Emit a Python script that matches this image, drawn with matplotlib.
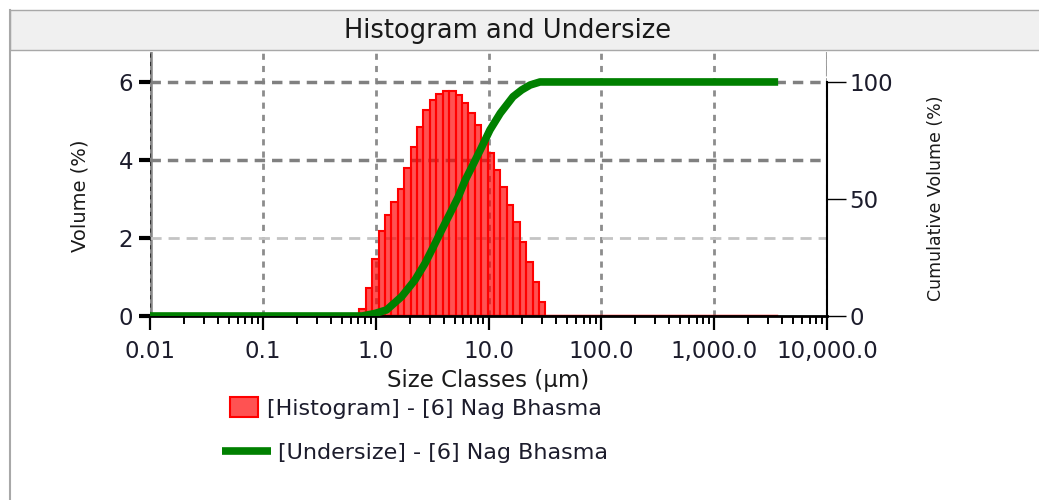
import matplotlib.pyplot as plt
import numpy as np
from matplotlib.lines import Line2D
from matplotlib.patches import Rectangle

# size class edges (um) of the classes that hold volume
class_edges = [0.716, 0.816, 0.930, 1.061, 1.209, 1.378, 1.571, 1.791, 2.041, 2.327,
               2.652, 3.023, 3.446, 3.928, 4.478, 5.104, 5.818, 6.632, 7.560, 8.618,
               9.824, 11.20, 12.76, 14.55, 16.59, 18.91, 21.55, 24.57, 28.00, 31.92]
volume = [0.18, 0.71, 1.47, 2.18, 2.60, 2.92, 3.25, 3.79, 4.34, 4.85,
          5.28, 5.54, 5.69, 5.78, 5.76, 5.67, 5.45, 5.20, 4.90, 4.51,
          4.17, 3.74, 3.32, 2.85, 2.42, 1.91, 1.39, 0.86, 0.37]
size_range = [0.01, 3500]

undersize_size = [0.01, 0.76, 0.99, 1.25, 1.70, 2.23, 2.74, 3.25, 3.85, 4.57, 5.41,
                  6.21, 7.35, 8.73, 10.3, 12.7, 16.5, 19.7, 23.4, 28.6, 3690]
undersize_pct = [0, 0, 1.1, 2.6, 8.3, 15.4, 22.5, 29.6, 36.8, 43.9, 51.0,
                 58.0, 65.0, 72.3, 79.5, 86.6, 93.7, 96.6, 98.7, 100, 100]

decades = [0.01, 0.1, 1, 10, 100, 1000, 10000]
decade_labels = ["0.01", "0.1", "1.0", "10.0", "100.0", "1,000.0", "10,000.0"]
vol_ticks = [0, 2, 4, 6]
cum_ticks = [0, 50, 100]

txt = '#1c1c2c'

fig = plt.figure(figsize=(10.39, 5.0), dpi=100)

# panel frame and title band
fig.add_artist(Rectangle((10/1039, 0.9), 1, 0.08, transform=fig.transFigure,
                         facecolor='#f0f0f0', edgecolor='#a8a8a8', lw=1))
fig.add_artist(Line2D([10/1039, 10/1039], [0, 0.98], transform=fig.transFigure,
                      color='#a8a8a8', lw=1.5))
fig.text(508/1039, 1 - 31/500, 'Histogram and Undersize', ha='center', va='center',
         fontsize=18.5, color='#1a1a1a')

ax = fig.add_axes([150/1039, 0.368, 677/1039, 264/500])
ax.set_xscale('log')
ax.set_xlim(0.01, 10000)
ax.set_ylim(0, 6.77)

# grid
for d in decades[1:]:
    ax.axvline(d, color='#8c8c8c', lw=2, ls=(0, (2.2, 2.2)), zorder=0)
ax.axvline(0.01, color='#888888', lw=4, zorder=0)
ax.axvline(0.01, color='#333333', lw=1.5, ls=(0, (2, 2)), zorder=0.5)
ax.axhline(2, color='#c4c4c4', lw=2, ls=(0, (4, 2.5)), zorder=0)
ax.axhline(4, color='#808080', lw=2.5, ls=(0, (3, 2)), zorder=0)
ax.axhline(6, color='#808080', lw=2.5, ls=(0, (3, 2)), zorder=0)

ax.plot(size_range, [0, 0], color='red', lw=2.5, zorder=2)
bars = ax.bar(class_edges[:-1], volume, width=np.diff(class_edges), align='edge',
              facecolor=(1, 0, 0, 0.68), edgecolor='red', lw=1.5, zorder=1,
              label='[Histogram] - [6] Nag Bhasma')

for s in ['top', 'right', 'left']:
    ax.spines[s].set_visible(False)
ax.spines['bottom'].set_linewidth(2)

ax.set_xticks(decades)
ax.set_xticklabels(decade_labels)
ax.xaxis.set_minor_locator(plt.matplotlib.ticker.LogLocator(base=10, subs=np.arange(2, 10)))
ax.xaxis.set_minor_formatter(plt.NullFormatter())
ax.tick_params(axis='x', which='major', length=10, width=1.6, labelsize=16.5,
               labelcolor=txt, pad=7)
ax.tick_params(axis='x', which='minor', length=6, width=1.4)
ax.set_yticks(vol_ticks)
ax.tick_params(axis='y', length=8, width=3, labelsize=16.5, labelcolor=txt, pad=4)
ax.yaxis.get_major_ticks()[1].tick1line.set_color('#888888')

ax2 = ax.twinx()
ax2.set_ylim(0, 112.8)
ln, = ax2.plot(undersize_size, undersize_pct, color='#008000', lw=5.5,
               solid_capstyle='butt', label='[Undersize] - [6] Nag Bhasma')
for s in ['top', 'left', 'bottom']:
    ax2.spines[s].set_visible(False)
ax2.spines['right'].set_bounds(0, 100)
ax2.spines['right'].set_linewidth(1.5)
ax2.axvline(10000, color='#a0a0a0', lw=1.5, ls=(0, (3, 2)))
ax2.set_yticks(cum_ticks)
ax2.tick_params(axis='y', length=14, width=1, labelsize=16.5, labelcolor=txt, pad=2)

fig.text(80/1039, 1 - 196/500, 'Volume (%)', rotation=90, ha='center', va='center',
         fontsize=14, color='#1a1a1a')
fig.text(936/1039, 1 - 198/500, 'Cumulative Volume (%)', rotation=90, ha='center',
         va='center', fontsize=12.5, color='#1a1a1a')
fig.text(488/1039, 1 - 380/500, 'Size Classes (µm)', ha='center', va='center',
         fontsize=16.5, color='#1a1a1a')

fig.legend(handles=[bars], loc='center left', bbox_to_anchor=(230/1039, 1 - 408/500),
           frameon=False, fontsize=16, handlelength=1.25, handleheight=1.0,
           handletextpad=0.4, borderpad=0, borderaxespad=0, labelcolor=txt)
fig.legend(handles=[ln], loc='center left', bbox_to_anchor=(222/1039, 1 - 453/500),
           frameon=False, fontsize=16, handlelength=2.2, handletextpad=0.3,
           borderpad=0, borderaxespad=0, labelcolor=txt)

fig.savefig('out.png', dpi=100)
